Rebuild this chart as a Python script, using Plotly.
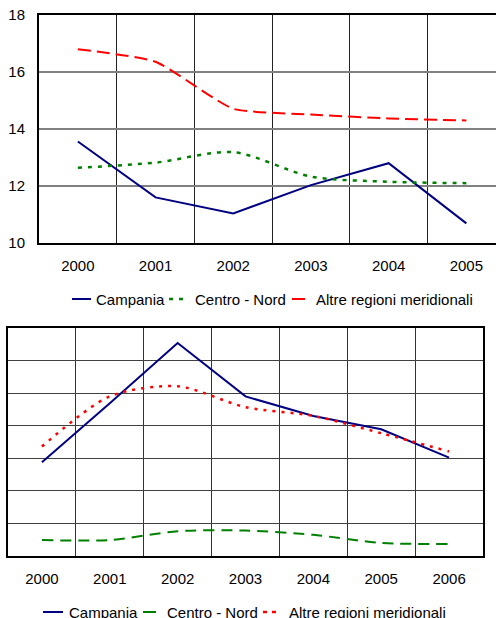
import plotly.graph_objects as go

W, H = 496, 618

# ---- Chart 1 data ----
years1 = ["2000", "2001", "2002", "2003", "2004", "2005"]
campania1 = [13.56, 11.6, 11.04, 12.03, 12.8, 10.69]
centro_nord1 = [12.64, 12.82, 13.19, 12.33, 12.15, 12.1]
altre1 = [16.8, 16.36, 14.71, 14.51, 14.37, 14.3]
yticks1 = [10, 12, 14, 16, 18]

# ---- Chart 2 data ----
years2 = ["2000", "2001", "2002", "2003", "2004", "2005", "2006"]
campania2 = [2.88, 4.69, 6.54, 4.9, 4.3, 3.89, 3.02]
centro_nord2 = [0.49, 0.49, 0.76, 0.78, 0.65, 0.4, 0.37]
altre2 = [3.36, 4.9, 5.21, 4.57, 4.3, 3.77, 3.21]
yticks2 = [0, 1, 2, 3, 4, 5, 6, 7]

series_names = ["Campania", "Centro - Nord", "Altre regioni meridionali"]

FONT = "Liberation Sans, Arial, sans-serif"
NAVY = "#000080"
GREEN = "#008000"
RED = "#FF0000"

def px_x(x):
    return x / W

def px_y(y):
    return 1 - y / H

fig = go.Figure()

# Chart 1 traces
fig.add_trace(go.Scatter(x=years1, y=campania1, mode="lines", name=series_names[0],
                         line=dict(color=NAVY, width=2), xaxis="x", yaxis="y", showlegend=False))
fig.add_trace(go.Scatter(x=years1, y=centro_nord1, mode="lines", name=series_names[1],
                         line=dict(color=GREEN, width=2.5, dash="4px,6px", shape="spline", smoothing=0.8),
                         xaxis="x", yaxis="y", showlegend=False))
fig.add_trace(go.Scatter(x=years1, y=altre1, mode="lines", name=series_names[2],
                         line=dict(color=RED, width=2, dash="13px,6px", shape="spline", smoothing=0.5),
                         xaxis="x", yaxis="y", showlegend=False))

# Chart 2 traces
fig.add_trace(go.Scatter(x=years2, y=campania2, mode="lines", name=series_names[0],
                         line=dict(color=NAVY, width=2), xaxis="x2", yaxis="y2", showlegend=False))
fig.add_trace(go.Scatter(x=years2, y=centro_nord2, mode="lines", name=series_names[1],
                         line=dict(color=GREEN, width=2, dash="11px,7px", shape="spline", smoothing=0.8),
                         xaxis="x2", yaxis="y2", showlegend=False))
fig.add_trace(go.Scatter(x=years2, y=altre2, mode="lines", name=series_names[2],
                         line=dict(color=RED, width=2.5, dash="3px,6px", shape="spline", smoothing=0.8),
                         xaxis="x2", yaxis="y2", showlegend=False))

tickfont = dict(family=FONT, size=15, color="#000000")

fig.update_layout(
    width=W, height=H,
    margin=dict(l=0, r=0, t=0, b=0, autoexpand=False),
    paper_bgcolor="white", plot_bgcolor="white",
    font=dict(family=FONT, size=15, color="#000000"),
    xaxis=dict(domain=[px_x(39), 1.0], anchor="y", type="category", automargin=False,
               range=[-0.5, -0.5 + 457 / 77.7], tickson="boundaries",
               showgrid=True, gridcolor="#222222", gridwidth=1,
               showline=True, linecolor="#000000", linewidth=2, mirror=True,
               ticks="", tickfont=tickfont, ticklabelstandoff=8),
    yaxis=dict(domain=[px_y(243), px_y(15)], anchor="x", range=[10, 18], automargin=False,
               tickvals=yticks1, ticktext=[str(v) for v in yticks1],
               showgrid=True, gridcolor="#808080", gridwidth=1.5,
               showline=True, linecolor="#000000", linewidth=2, mirror=False,
               ticks="", tickfont=tickfont, ticklabelstandoff=9, zeroline=False),
    xaxis2=dict(domain=[px_x(8), px_x(483)], anchor="y2", type="category", automargin=False,
                range=[-0.5, len(years2) - 0.5], tickson="boundaries",
                showgrid=True, gridcolor="#333333", gridwidth=1,
                showline=True, linecolor="#000000", linewidth=1.5, mirror=True,
                ticks="", tickfont=tickfont, ticklabelstandoff=8),
    yaxis2=dict(domain=[px_y(556), px_y(328)], anchor="x2", range=[0, 7], side="right",
                automargin=False,
                tickvals=yticks2, ticktext=[str(v) for v in yticks2],
                showgrid=True, gridcolor="#404040", gridwidth=1,
                showline=True, linecolor="#000000", linewidth=1.5, mirror=True,
                ticks="", tickfont=tickfont, ticklabelstandoff=9, zeroline=False),
)

# Manual legends (keys + real text labels)
legend_specs = [
    (299, [(72, 91, NAVY, 2, "solid", 94),
           (169, 185, GREEN, 2.5, "4px,6px", 193),
           (292, 305, RED, 2, "solid", 314)]),
    (612, [(43, 63, NAVY, 2, "solid", 67),
           (143, 156, GREEN, 2, "solid", 165),
           (263, 279, RED, 2.5, "4px,5px", 287)]),
]
for ypx, items in legend_specs:
    for (x0, x1, col, wdt, dash, tx), name in zip(items, series_names):
        fig.add_shape(type="line", xref="paper", yref="paper",
                      x0=px_x(x0), x1=px_x(x1), y0=px_y(ypx), y1=px_y(ypx),
                      line=dict(color=col, width=wdt, dash=dash))
        fig.add_annotation(text=name, xref="paper", yref="paper",
                           x=px_x(tx), y=px_y(ypx), xanchor="left", yanchor="middle",
                           showarrow=False, font=dict(family=FONT, size=15, color="#000000"))

fig.write_html(
    "out.html",
    config={"displayModeBar": False},
    post_script="document.body.style.margin='0';document.body.style.padding='0';"
                "document.body.style.overflow='hidden';",
)
